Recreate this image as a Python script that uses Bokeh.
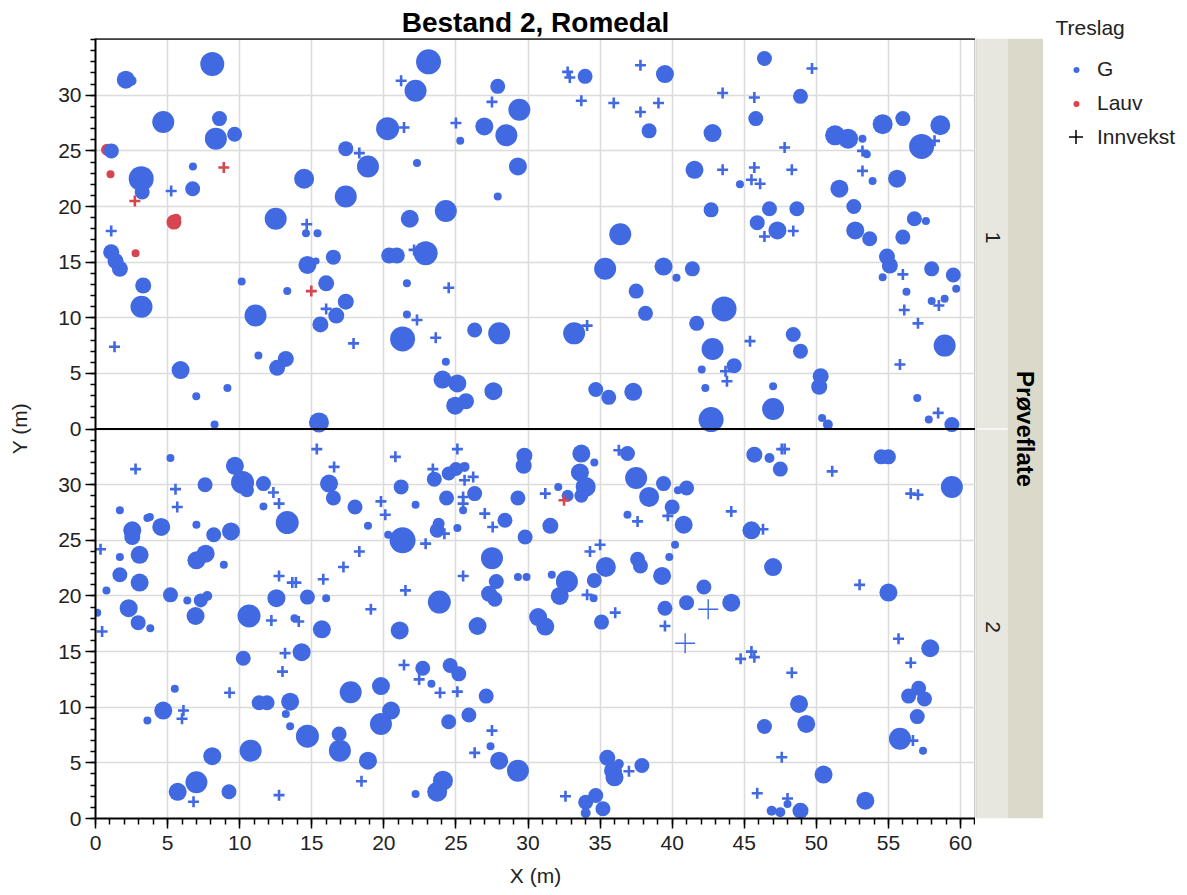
import math
import numpy as np
from bokeh.plotting import figure
from bokeh.models import ColumnDataSource, Range1d, FixedTicker, Legend, LegendItem, Span
from bokeh.layouts import row
from bokeh.embed import file_html
from bokeh.resources import INLINE
from bokeh.core.properties import value

# ---------------- data: Prøveflate 1 (upper panel) ----------------
p1_g_x = [2.1, 2.5, 8.1, 4.7, 8.6, 8.35, 9.65, 1.1, 3.17, 3.24, 6.76, 6.74, 1.09, 1.39, 1.69, 3.31, 3.19, 5.9, 6.99, 9.15,
          8.26, 12.5, 14.6, 15.4, 14.47, 14.7, 10.14, 13.3, 11.1, 11.3, 13.2, 12.6, 15.5, 15.6,
          23.1, 22.2, 27.9, 29.4, 20.26, 25.3, 26.97, 28.5, 17.36, 18.9, 22.3, 29.3, 17.36, 27.9, 24.3, 21.8, 16.5, 20.37,
          20.9, 22.9, 16.0, 15.3, 17.36, 16.7, 21.6, 21.6, 21.3, 26.3, 28.0, 24.3, 24.07, 25.1, 24.95, 25.7, 27.6,
          33.96, 39.5, 38.4, 42.8, 45.8, 46.4, 41.55, 44.7, 42.7, 36.4, 35.35, 39.4, 40.3, 41.4, 37.5, 38.15, 43.6, 41.7,
          33.2, 42.8, 44.3, 42.05, 42.3, 34.7, 35.6, 37.3, 42.7,
          48.9, 51.3, 52.2, 53.2, 53.5, 54.6, 56.0, 58.6, 57.3, 53.9, 55.6, 51.6, 52.6, 46.75, 48.65, 45.9, 47.3, 52.7, 53.7,
          56.8, 57.6, 56.0, 54.9, 55.1, 54.6, 56.25, 58.0, 59.5, 59.7, 58.0, 58.9, 58.9, 48.4, 48.9, 50.3, 50.2, 47.0, 47.0,
          50.4, 50.8, 57.0, 57.8, 59.4]
p1_g_y = [31.4, 31.3, 32.8, 27.6, 27.9, 26.1, 26.5, 25.0, 22.5, 21.3, 23.6, 21.6, 15.9, 15.1, 14.4, 12.9, 11.0, 5.3, 2.95, 3.7,
          0.4, 18.9, 17.6, 17.6, 22.5, 14.75, 13.25, 12.4, 10.2, 6.6, 6.3, 5.5, 0.6, 9.4,
          33.0, 30.4, 30.8, 28.7, 27.0, 25.9, 27.2, 26.4, 25.2, 23.6, 23.9, 23.6, 20.9, 20.9, 19.6, 18.9, 15.45, 15.6,
          15.6, 15.8, 13.1, 15.1, 11.45, 10.2, 13.1, 10.3, 8.1, 8.9, 8.6, 6.05, 4.45, 4.1, 2.1, 2.5, 3.4,
          31.7, 31.9, 26.8, 26.6, 27.9, 33.3, 23.3, 22.0, 19.7, 17.5, 14.4, 14.6, 13.6, 14.4, 12.4, 10.4, 10.8, 9.5,
          8.6, 7.2, 5.7, 5.35, 3.7, 3.55, 2.85, 3.35, 0.85,
          29.9, 26.4, 26.1, 26.1, 24.7, 27.4, 27.9, 27.3, 25.4, 22.3, 22.5, 21.6, 20.0, 19.8, 19.8, 18.55, 17.85, 17.85, 17.1,
          18.9, 18.7, 17.25, 15.5, 14.7, 13.65, 12.35, 14.4, 13.85, 12.6, 11.5, 11.7, 7.5, 8.5, 7.0, 4.75, 3.8, 3.85, 1.8,
          1.0, 0.4, 2.8, 0.85, 0.4]
p1_g_d = [18, 10, 24, 22, 15, 22, 15, 15, 25, 15, 8, 15, 16, 16, 16, 16, 22, 18, 8, 8,
          8, 22, 8, 8, 20, 18, 8, 8, 22, 8, 16, 16, 20, 16,
          25, 22, 15, 22, 23, 8, 18, 22, 15, 22, 8, 18, 22, 8, 22, 18, 15, 16,
          16, 24, 16, 7, 16, 16, 8, 8, 25, 15, 22, 8, 18, 18, 18, 16, 18,
          15, 18, 15, 18, 15, 15, 18, 8, 15, 22, 22, 18, 8, 15, 15, 15, 25, 15,
          22, 22, 15, 8, 8, 15, 15, 18, 25,
          15, 20, 20, 8, 8, 20, 15, 20, 25, 8, 18, 18, 15, 15, 15, 15, 18, 18, 15,
          15, 8, 15, 16, 16, 8, 8, 15, 15, 8, 8, 8, 22, 15, 15, 16, 16, 8, 22,
          8, 10, 8, 8, 15]
p1_l_x = [0.8, 1.04, 5.44, 5.6, 2.78]
p1_l_y = [25.1, 22.9, 18.6, 18.9, 15.8]
p1_l_d = [12, 8, 15, 10, 8]
p1_inn_g_x = [5.25, 1.09, 1.32, 14.65, 21.2, 27.5, 21.4, 25.0, 18.3, 22.1, 16.0, 17.9, 24.5, 22.3, 23.6, 32.75, 32.9, 37.8,
              33.7, 35.95, 37.8, 39.05, 43.5, 45.7, 43.5, 45.7, 45.5, 46.1, 34.1, 45.4, 43.7, 43.8, 49.7, 47.8, 53.2,
              58.2, 48.3, 53.2, 46.4, 48.4, 56.0, 58.5, 56.1, 57.05, 55.8, 58.45]
p1_inn_g_y = [21.4, 17.8, 7.4, 18.4, 31.3, 29.4, 27.1, 27.5, 24.8, 16.1, 10.8, 7.7, 12.7, 9.8, 8.2, 32.1, 31.6, 32.7,
              29.5, 29.3, 28.5, 29.3, 30.2, 29.8, 23.3, 23.5, 22.4, 22.05, 9.3, 7.9, 5.2, 4.3, 32.4, 25.3, 25.0,
              25.9, 23.3, 23.2, 17.3, 17.8, 13.9, 11.1, 10.7, 9.5, 5.8, 1.45]
p1_inn_l_x = [8.9, 2.73, 14.97]
p1_inn_l_y = [23.5, 20.5, 12.4]

# ---------------- data: Prøveflate 2 (lower panel) ----------------
p2_g_x = [5.2, 9.67, 10.2, 10.5, 11.65, 7.6, 11.65, 13.3, 1.69, 2.55, 2.55, 3.6, 3.77, 4.56, 7.0, 8.2, 9.4, 1.69, 3.06, 7.0,
          7.64, 8.9, 1.69, 3.06, 0.76, 5.2, 2.3, 2.96, 3.8, 0.12, 6.94, 7.3, 7.75, 6.37, 10.65, 12.55, 14.7, 13.8, 15.7, 10.25,
          14.3, 5.5, 4.7, 3.6, 11.35, 11.9, 13.5, 13.2, 13.5, 14.7, 10.76, 8.1, 7.0, 5.7, 9.26,
          16.2, 16.5, 18.0, 18.9, 21.2, 22.2, 21.3, 20.3, 23.5, 24.5, 25.0, 25.6, 24.35, 25.5, 26.3, 25.1, 23.7, 23.8, 28.4, 29.3,
          29.75, 29.7, 29.8, 16.0, 23.85, 21.1, 27.5, 27.8, 27.3, 27.7, 29.3, 29.9, 26.5, 22.7, 23.3, 24.6, 25.2, 27.1, 17.7, 19.8,
          20.5, 19.8, 24.5, 25.9, 27.4, 28.0, 29.3, 16.9, 16.95, 18.9, 24.1, 23.7, 22.2,
          33.7, 33.6, 34.6, 34.0, 33.7, 36.9, 32.1, 32.75, 31.55, 37.5, 38.4, 39.4, 41.0, 40.4, 40.0, 36.9, 40.8, 45.5, 40.2, 39.8,
          35.4, 34.6, 31.65, 32.7, 32.2, 34.55, 37.6, 37.8, 39.3, 42.2, 41.0, 39.5, 44.1, 35.1, 30.7, 31.2, 35.5, 36.3, 36.0, 35.9,
          37.9, 34.0, 34.7, 35.2, 34.0,
          45.7, 46.75, 47.5, 54.5, 55.0, 59.4, 47.0, 55.0, 57.9, 57.1, 56.4, 57.5, 57.0, 55.8, 57.4, 48.8, 49.3, 46.4, 50.5, 53.4,
          48.0, 46.9, 47.5, 48.9]
p2_g_y = [32.4, 31.7, 30.2, 29.5, 30.1, 30.0, 28.05, 26.6, 27.7, 25.9, 25.3, 27.0, 27.1, 26.2, 26.4, 25.5, 25.8, 23.5, 23.7, 23.2,
          23.8, 22.8, 21.9, 21.2, 20.5, 20.1, 18.9, 17.6, 17.1, 18.5, 18.2, 19.6, 20.0, 19.6, 18.2, 19.8, 19.9, 18.0, 17.0, 14.4,
          14.95, 11.65, 9.7, 8.8, 10.4, 10.4, 10.5, 9.4, 8.3, 7.4, 6.1, 5.6, 3.26, 2.4, 2.4,
          30.1, 28.8, 28.0, 26.3, 29.8, 28.2, 25.0, 25.5, 30.5, 31.0, 31.4, 31.6, 28.8, 27.7, 29.2, 26.1, 25.9, 26.5, 26.8, 28.8,
          32.6, 31.7, 25.3, 19.8, 19.45, 16.9, 23.4, 21.3, 20.2, 19.7, 21.7, 21.7, 17.3, 13.5, 12.1, 13.75, 13.0, 11.0, 11.35, 11.9,
          9.7, 8.5, 8.7, 9.3, 6.5, 5.2, 4.3, 7.6, 6.1, 5.2, 3.4, 2.4, 2.2,
          32.8, 31.1, 32.0, 29.8, 29.0, 32.8, 29.8, 29.0, 26.3, 30.6, 28.9, 30.1, 29.7, 29.5, 28.0, 27.3, 26.4, 25.9, 24.6, 23.5,
          22.6, 21.4, 21.9, 21.3, 20.0, 19.8, 23.3, 22.7, 21.8, 20.8, 19.4, 18.9, 19.4, 17.65, 18.1, 17.25, 5.45, 4.9, 3.7, 4.3,
          4.76, 1.46, 2.07, 0.87, 0.5,
          32.7, 32.4, 31.4, 32.5, 32.5, 29.8, 22.6, 20.3, 15.3, 11.7, 11.0, 10.75, 9.16, 7.16, 6.1, 10.3, 8.5, 8.27, 3.95, 1.6,
          1.3, 0.7, 0.57, 0.7]
p2_g_d = [8, 18, 23, 14, 15, 15, 8, 23, 8, 18, 16, 8, 8, 18, 8, 15, 18, 8, 18, 18,
          18, 8, 15, 18, 8, 15, 18, 15, 8, 8, 18, 14, 10, 8, 23, 18, 15, 8, 18, 15,
          18, 8, 18, 8, 15, 15, 18, 8, 8, 23, 22, 18, 22, 18, 15,
          18, 15, 15, 8, 15, 8, 26, 8, 15, 14, 14, 10, 15, 8, 15, 8, 15, 12, 15, 15,
          16, 16, 15, 8, 23, 18, 22, 15, 16, 15, 8, 8, 18, 15, 8, 15, 15, 15, 22, 18,
          18, 22, 15, 15, 8, 18, 22, 15, 22, 18, 20, 20, 8,
          18, 18, 8, 20, 14, 15, 8, 12, 16, 22, 20, 15, 15, 8, 15, 8, 18, 18, 8, 8,
          20, 15, 8, 22, 18, 8, 15, 15, 18, 15, 15, 15, 18, 15, 18, 18, 16, 10, 18, 18,
          15, 15, 15, 15, 10,
          16, 10, 15, 15, 15, 22, 18, 18, 18, 15, 15, 15, 15, 22, 8, 18, 18, 15, 18, 18,
          8, 10, 10, 16]
p2_inn_g_x = [2.78, 5.55, 5.67, 12.34, 12.73, 0.35, 0.46, 12.2, 14.1, 12.73, 13.65, 13.9, 13.15, 12.97, 6.1, 6.0, 9.3, 6.8,
              12.73, 15.35, 16.55, 20.8, 19.8, 20.1, 22.9, 23.4, 25.1, 25.6, 26.2, 25.5, 25.5, 27.0, 27.55, 24.2, 18.3,
              17.2, 15.8, 19.1, 21.5, 25.5, 21.4, 22.45, 23.9, 25.1, 27.5, 26.3, 18.45, 36.3, 31.2, 39.7, 37.6, 44.1,
              34.3, 35.0, 34.1, 39.5, 36.05, 44.75, 45.5, 45.7, 37.0, 32.6, 45.9, 47.6, 47.8, 51.1, 56.55, 57.05, 46.3,
              53.0, 55.7, 56.55, 56.7, 48.3, 47.6, 48.0]
p2_inn_g_y = [31.4, 29.6, 28.0, 29.3, 28.3, 24.2, 16.8, 17.8, 17.7, 21.8, 21.2, 21.2, 14.85, 13.2, 9.7, 8.96, 11.3, 1.5,
              2.1, 33.2, 31.6, 32.5, 28.5, 27.3, 24.7, 31.4, 33.2, 30.4, 30.7, 28.9, 28.3, 27.4, 26.2, 25.6, 24.0,
              22.6, 21.5, 18.8, 20.5, 21.8, 13.8, 12.5, 11.3, 11.4, 7.9, 5.9, 3.35, 33.1, 29.2, 27.2, 26.7, 27.6,
              24.0, 24.6, 20.1, 17.3, 18.5, 14.35, 15.0, 14.5, 4.25, 2.0, 2.27, 33.2, 33.2, 31.2, 29.2, 29.1, 26.0,
              21.0, 16.15, 14.0, 7.0, 13.1, 5.5, 1.8]
p2_inn_big_x = [42.5, 40.9]
p2_inn_big_y = [18.8, 15.75]
p2_inn_l_x = [32.5]
p2_inn_l_y = [28.6]

tick_values = [0, 5, 10, 15, 20, 25, 30]
x_tick_values = [0, 5, 10, 15, 20, 25, 30, 35, 40, 45, 50, 55, 60]
legend_title = "Treslag"
legend_labels = ["G", "Lauv", "Innvekst"]
strip_labels = ["1", "2"]

# ---------------- styling / layout ----------------
FONT = "Liberation Sans"
BLUE = "#4169E1"
RED = "#D64550"
TXT = "#222222"
OFFSET = 35.0            # Prøveflate 1 is stacked above Prøveflate 2 on one shared scale
Y_TOP = OFFSET + 35.1
X_MAX = 61.04
SIZE_SCALE = 1.0         # px per cm of diameter
H = 895
B_TOP, B_BOT = 38, 77

p = figure(width=975, height=H, x_range=Range1d(0, X_MAX), y_range=Range1d(0, Y_TOP),
           output_backend="svg", toolbar_location=None,
           min_border_left=95, min_border_right=0, min_border_top=B_TOP, min_border_bottom=B_BOT,
           background_fill_color="white", border_fill_color="white")
p.title.text = "Bestand 2, Romedal"
p.title.align = "center"
p.title.text_font = FONT
p.title.text_font_size = "28px"
p.title.text_font_style = "bold"
p.title.text_color = "black"
p.title.standoff = 2
p.outline_line_color = "#c8c8c8"

p.xaxis.ticker = FixedTicker(ticks=x_tick_values, minor_ticks=list(range(0, 62)))
yt = tick_values + [v + OFFSET for v in tick_values]
ym = sorted(set(list(range(0, 36)) + [v + OFFSET for v in range(0, 36)]))
p.yaxis.ticker = FixedTicker(ticks=yt, minor_ticks=ym)
p.yaxis.major_label_overrides = {v + OFFSET: str(v) for v in tick_values}

for ax in (p.xaxis[0], p.yaxis[0]):
    ax.axis_line_color = "black"
    ax.axis_line_width = 2
    ax.major_tick_line_color = "black"
    ax.major_tick_line_width = 1.5
    ax.minor_tick_line_color = "black"
    ax.minor_tick_line_width = 1.5
    ax.major_tick_in = 0
    ax.minor_tick_in = 0
    ax.major_tick_out = 10
    ax.major_label_text_font = FONT
    ax.major_label_text_font_size = "21px"
    ax.major_label_text_color = TXT
    ax.axis_label_text_font = FONT
    ax.axis_label_text_font_size = "21px"
    ax.axis_label_text_font_style = "normal"
    ax.axis_label_text_color = TXT
p.xaxis.minor_tick_out = 6
p.yaxis.minor_tick_out = 5
p.xaxis.major_label_standoff = 7
p.yaxis.major_label_standoff = 4
p.xaxis.axis_label = "X (m)"
p.yaxis.axis_label = "Y (m)"
p.xaxis.axis_label_standoff = 11
p.yaxis.axis_label_standoff = 24

p.xgrid.grid_line_color = "#dcdcdc"
p.ygrid.grid_line_color = "#dcdcdc"
p.xgrid.grid_line_width = 1.6
p.ygrid.grid_line_width = 1.6

p.add_layout(Span(location=OFFSET, dimension="width", line_color="black", line_width=2))
p.add_layout(Span(location=Y_TOP, dimension="width", line_color="black", line_width=2.5))

def src(xs, ys, ds=None, off=0.0):
    d = dict(x=list(xs), y=list(np.array(ys, dtype=float) + off))
    if ds is not None:
        d["s"] = list(np.array(ds, dtype=float) * SIZE_SCALE)
    return ColumnDataSource(d)

# Lauv trees, then G trees, then ingrowth crosses
p.scatter("x", "y", size="s", source=src(p1_l_x, p1_l_y, p1_l_d, OFFSET), marker="circle",
          fill_color=RED, line_color=None)
for xs, ys, ds, off in ((p1_g_x, p1_g_y, p1_g_d, OFFSET), (p2_g_x, p2_g_y, p2_g_d, 0.0)):
    p.scatter("x", "y", size="s", source=src(xs, ys, ds, off), marker="circle",
              fill_color=BLUE, line_color=None)
for xs, ys, off in ((p1_inn_g_x, p1_inn_g_y, OFFSET), (p2_inn_g_x, p2_inn_g_y, 0.0)):
    p.scatter("x", "y", size=11, source=src(xs, ys, None, off), marker="cross",
              line_color=BLUE, line_width=2.6)
p.scatter("x", "y", size=20, source=src(p2_inn_big_x, p2_inn_big_y), marker="cross",
          line_color=BLUE, line_width=1.4)
for xs, ys, off in ((p1_inn_l_x, p1_inn_l_y, OFFSET), (p2_inn_l_x, p2_inn_l_y, 0.0)):
    p.scatter("x", "y", size=11, source=src(xs, ys, None, off), marker="cross",
              line_color=RED, line_width=2.6)

# ---------------- facet strips ----------------
s = figure(width=68, height=H, x_range=Range1d(0, 68), y_range=p.y_range, title=None,
           output_backend="svg", toolbar_location=None, x_axis_type=None, y_axis_type=None,
           min_border_left=0, min_border_right=0, min_border_top=B_TOP, min_border_bottom=B_BOT,
           outline_line_color=None, background_fill_color="white", border_fill_color="white")
s.quad(left=[0, 0], right=[32, 32], bottom=[0, OFFSET], top=[OFFSET, Y_TOP],
       fill_color="#E7E7E0", line_color=None)
s.quad(left=[32], right=[68], bottom=[0], top=[Y_TOP], fill_color="#DAD9CA", line_color=None)
s.segment(x0=[0], x1=[32], y0=[OFFSET], y1=[OFFSET], line_color="#F6F6F2", line_width=2)
s.segment(x0=[0.5], x1=[0.5], y0=[0], y1=[Y_TOP], line_color="#cfcfc8", line_width=1)
s.text(x=[17, 17], y=[OFFSET + 17.2, 17.2], text=strip_labels, angle=-math.pi / 2,
       text_align="center", text_baseline="middle", text_font=value(FONT),
       text_font_size="21px", text_color=TXT)
s.text(x=[50], y=[OFFSET], text=["Prøveflate"], angle=-math.pi / 2,
       text_align="center", text_baseline="middle", text_font=value(FONT),
       text_font_size="24px", text_font_style="bold", text_color="black")

# ---------------- legend ----------------
lg = figure(width=144, height=H, x_range=Range1d(0, 1), y_range=Range1d(0, 1), title=legend_title,
            output_backend="svg", toolbar_location=None, x_axis_type=None, y_axis_type=None,
            min_border_left=0, min_border_right=0, min_border_top=B_TOP, min_border_bottom=B_BOT,
            outline_line_color=None, background_fill_color="white", border_fill_color="white")
lg.title.align = "left"
lg.title.offset = 12
lg.title.standoff = 0
lg.title.text_font = FONT
lg.title.text_font_size = "21px"
lg.title.text_font_style = "normal"
lg.title.text_color = TXT
# legend renderers hold one point each, kept outside the visible range
rg = lg.scatter(x=[-10], y=[-10], marker="circle", fill_color=BLUE, line_color=None)
rl = lg.scatter(x=[-10], y=[-10], marker="circle", fill_color=RED, line_color=None)
ri = lg.scatter(x=[-10], y=[-10], marker="cross", line_color="black", line_width=1.5)

FRAME_BOTTOM = H - B_BOT
common = dict(border_line_color=None, background_fill_alpha=0, padding=0, margin=0,
              label_text_font=FONT, label_text_font_size="21px", label_text_color=TXT)
legA = Legend(items=[LegendItem(label=legend_labels[0], renderers=[rg]),
                     LegendItem(label=legend_labels[1], renderers=[rl])],
              location=(12, FRAME_BOTTOM - 115), glyph_width=42, glyph_height=15,
              label_standoff=0, label_height=23, spacing=10, **common)
legB = Legend(items=[LegendItem(label=legend_labels[2], renderers=[ri])],
              location=(15, FRAME_BOTTOM - 154), glyph_width=35, glyph_height=35,
              label_standoff=4, label_height=23, **common)
lg.add_layout(legA)
lg.add_layout(legB)

layout = row(p, s, lg)
open("out.html", "w").write(file_html(layout, INLINE))
